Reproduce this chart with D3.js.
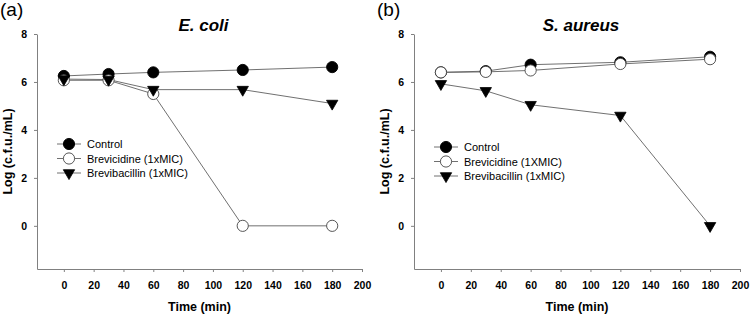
<!DOCTYPE html>
<html>
<head>
<meta charset="utf-8">
<script src="https://cdn.jsdelivr.net/npm/d3@7"></script>
<style>
  body { margin: 0; background: #fff; }
  text { font-family: "Liberation Sans", Arial, sans-serif; }
</style>
</head>
<body>
<div id="chart"></div>
<script>
const width = 750;
const height = 314;

// data
const times = [0, 30, 60, 120, 180];
const xTicks = [0, 20, 40, 60, 80, 100, 120, 140, 160, 180, 200];
const yTicks = [0, 2, 4, 6, 8];

const ecoliControl = [6.25, 6.33, 6.4, 6.5, 6.62];
const ecoliBrevicidine = [6.07, 6.07, 5.5, 0, 0];
const ecoliBrevibacillin = [6.12, 6.1, 5.68, 5.68, 5.1];

const aureusControl = [6.4, 6.45, 6.72, 6.82, 7.05];
const aureusBrevicidine = [6.4, 6.42, 6.48, 6.75, 6.95];
const aureusBrevibacillin = [5.92, 5.63, 5.05, 4.6, 0];

const panels = [
  {
    tag: "(a)", title: "E. coli", left: 37, right: 362,
    series: [
      { name: "Control", values: ecoliControl, marker: "filled" },
      { name: "Brevicidine (1xMIC)", values: ecoliBrevicidine, marker: "open" },
      { name: "Brevibacillin (1xMIC)", values: ecoliBrevibacillin, marker: "tri" }
    ],
    legendY: 144, legendGap: 14.5
  },
  {
    tag: "(b)", title: "S. aureus", left: 414, right: 740,
    series: [
      { name: "Control", values: aureusControl, marker: "filled" },
      { name: "Brevicidine (1XMIC)", values: aureusBrevicidine, marker: "open" },
      { name: "Brevibacillin (1xMIC)", values: aureusBrevibacillin, marker: "tri" }
    ],
    legendY: 147, legendGap: 14.5
  }
];

const plotTop = 34, plotBottom = 269;
const axisColor = "#808080";
const lineColor = "#606060";

const svg = d3.select("#chart").append("svg")
  .attr("width", width)
  .attr("height", height);

const triangle = d3.symbol().type(d3.symbolTriangle).size(56);

function drawMarker(g, type, x, y) {
  if (type === "tri") {
    g.append("path")
      .attr("d", triangle())
      .attr("transform", `translate(${x},${y}) rotate(180)`)
      .attr("fill", "#000")
      .attr("stroke", "#000")
      .attr("stroke-width", 0.8);
  } else {
    g.append("circle")
      .attr("cx", x).attr("cy", y).attr("r", 5.6)
      .attr("fill", type === "filled" ? "#000" : "#fff")
      .attr("stroke", type === "filled" ? "#000" : "#444")
      .attr("stroke-width", 0.9);
  }
}

panels.forEach(p => {
  const x = d3.scaleLinear().domain([-18, 200]).range([p.left, p.right]);
  const y = d3.scaleLinear().domain([-1.8, 8]).range([plotBottom, plotTop]);
  const g = svg.append("g");

  // axes
  const xAxis = g.append("g")
    .attr("transform", `translate(0,${plotBottom})`)
    .call(d3.axisBottom(x).tickValues(xTicks).tickSize(3).tickPadding(10).tickSizeOuter(0));
  const yAxis = g.append("g")
    .attr("transform", `translate(${p.left},0)`)
    .call(d3.axisLeft(y).tickValues(yTicks).tickSize(3).tickPadding(7).tickSizeOuter(0));

  [xAxis, yAxis].forEach(a => {
    a.select(".domain").attr("stroke", axisColor);
    a.selectAll(".tick line").attr("stroke", axisColor);
    a.selectAll(".tick text")
      .attr("fill", "#000")
      .style("font-size", "10.5px")
      .style("font-weight", "bold");
  });

  // axis titles
  g.append("text")
    .attr("x", (p.left + p.right) / 2)
    .attr("y", 311)
    .attr("text-anchor", "middle")
    .style("font-size", "12.5px")
    .style("font-weight", "bold")
    .text("Time (min)");

  g.append("text")
    .attr("transform", `translate(${p.left - 25},${(plotTop + plotBottom) / 2}) rotate(-90)`)
    .attr("text-anchor", "middle")
    .style("font-size", "12.5px")
    .style("font-weight", "bold")
    .text("Log (c.f.u./mL)");

  // panel tag and title
  g.append("text")
    .attr("x", p.left - 37)
    .attr("y", 16)
    .style("font-size", "19px")
    .text(p.tag);

  g.append("text")
    .attr("x", (p.left + p.right) / 2 + 4)
    .attr("y", 31)
    .attr("text-anchor", "middle")
    .style("font-size", "17px")
    .style("font-weight", "bold")
    .style("font-style", "italic")
    .text(p.title);

  // lines
  const line = d3.line()
    .x((d, i) => x(times[i]))
    .y(d => y(d));

  p.series.forEach(s => {
    g.append("path")
      .datum(s.values)
      .attr("d", line)
      .attr("fill", "none")
      .attr("stroke", lineColor)
      .attr("stroke-width", 0.9);
  });

  // markers, in series order like the original plot
  p.series.forEach(s => {
    s.values.forEach((v, i) => drawMarker(g, s.marker, x(times[i]), y(v)));
  });

  // legend
  const lx = p.left + 20;
  p.series.forEach((s, i) => {
    const ly = p.legendY + i * p.legendGap;
    g.append("line")
      .attr("x1", lx).attr("x2", lx + 24)
      .attr("y1", ly).attr("y2", ly)
      .attr("stroke", lineColor)
      .attr("stroke-width", 0.9);
    drawMarker(g, s.marker, lx + 12, ly);
    g.append("text")
      .attr("x", lx + 30)
      .attr("y", ly + 4)
      .style("font-size", "11px")
      .text(s.name);
  });
});
</script>
</body>
</html>
